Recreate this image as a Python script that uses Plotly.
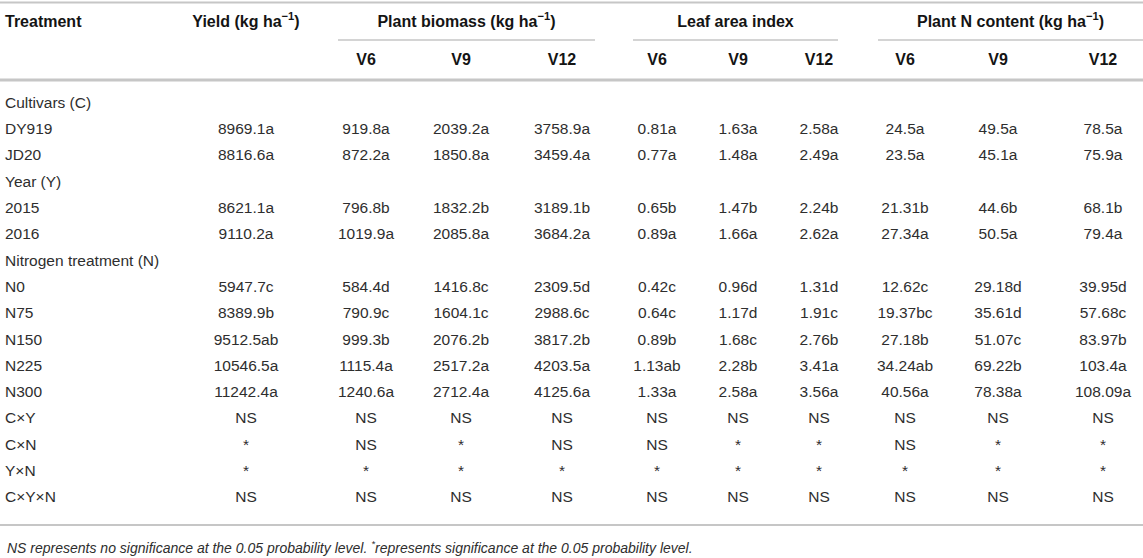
import plotly.graph_objects as go

# Table data (yield, biomass, LAI, plant N at V6/V9/V12)
treatments = ["Cultivars (C)", "DY919", "JD20", "Year (Y)", "2015", "2016",
              "Nitrogen treatment (N)", "N0", "N75", "N150", "N225", "N300",
              "C×Y", "C×N", "Y×N", "C×Y×N"]
yield_kg = ["", "8969.1a", "8816.6a", "", "8621.1a", "9110.2a", "", "5947.7c", "8389.9b",
            "9512.5ab", "10546.5a", "11242.4a", "NS", "*", "*", "NS"]
biomass_v6 = ["", "919.8a", "872.2a", "", "796.8b", "1019.9a", "", "584.4d", "790.9c",
              "999.3b", "1115.4a", "1240.6a", "NS", "NS", "*", "NS"]
biomass_v9 = ["", "2039.2a", "1850.8a", "", "1832.2b", "2085.8a", "", "1416.8c", "1604.1c",
              "2076.2b", "2517.2a", "2712.4a", "NS", "*", "*", "NS"]
biomass_v12 = ["", "3758.9a", "3459.4a", "", "3189.1b", "3684.2a", "", "2309.5d", "2988.6c",
               "3817.2b", "4203.5a", "4125.6a", "NS", "NS", "*", "NS"]
lai_v6 = ["", "0.81a", "0.77a", "", "0.65b", "0.89a", "", "0.42c", "0.64c",
          "0.89b", "1.13ab", "1.33a", "NS", "NS", "*", "NS"]
lai_v9 = ["", "1.63a", "1.48a", "", "1.47b", "1.66a", "", "0.96d", "1.17d",
          "1.68c", "2.28b", "2.58a", "NS", "*", "*", "NS"]
lai_v12 = ["", "2.58a", "2.49a", "", "2.24b", "2.62a", "", "1.31d", "1.91c",
           "2.76b", "3.41a", "3.56a", "NS", "*", "*", "NS"]
n_v6 = ["", "24.5a", "23.5a", "", "21.31b", "27.34a", "", "12.62c", "19.37bc",
        "27.18b", "34.24ab", "40.56a", "NS", "NS", "*", "NS"]
n_v9 = ["", "49.5a", "45.1a", "", "44.6b", "50.5a", "", "29.18d", "35.61d",
        "51.07c", "69.22b", "78.38a", "NS", "*", "*", "NS"]
n_v12 = ["", "78.5a", "75.9a", "", "68.1b", "79.4a", "", "39.95d", "57.68c",
         "83.97b", "103.4a", "108.09a", "NS", "*", "*", "NS"]

group_headers = ["Yield (kg ha<sup>−1</sup>)", "Plant biomass (kg ha<sup>−1</sup>)",
                 "Leaf area index", "Plant N content (kg ha<sup>−1</sup>)"]
stages = ["V6", "V9", "V12"]
footnote = ("<i>NS represents no significance at the 0.05 probability level. "
            "<sup>*</sup>represents significance at the 0.05 probability level.</i>")

W, H = 1143, 558
FONT = "Liberation Sans, Arial, Helvetica, sans-serif"
TXT = "#2e2e2e"
LINE = "#c6c6c6"

# layout positions (pixels)
row_y0, row_step = 104, 26.3
head_y, sub_y = 23, 61
value_cols = [yield_kg, biomass_v6, biomass_v9, biomass_v12,
              lai_v6, lai_v9, lai_v12, n_v6, n_v9, n_v12]
col_x = [246, 366, 461, 562, 657, 738, 819, 905, 998, 1103]
group_spans = [(338, 595), (633, 838), (878, 1143)]

rows_y = [row_y0 + i * row_step for i in range(len(treatments))]

fig = go.Figure()

body = dict(family=FONT, size=15.5, color=TXT)
fig.add_trace(go.Scatter(x=[5] * len(treatments), y=rows_y, text=treatments,
                         mode="text", textposition="middle right", textfont=body))
for cx, vals in zip(col_x, value_cols):
    ys = [y for y, v in zip(rows_y, vals) if v]
    fig.add_trace(go.Scatter(x=[cx] * len(ys), y=ys, text=[v for v in vals if v],
                             mode="text", textposition="middle center", textfont=body))

# header rows
bold = dict(family=FONT, size=16, color="#141414", weight="bold")
fig.add_trace(go.Scatter(x=[5], y=[head_y], text=["Treatment"], mode="text",
                         textposition="middle right", textfont=bold))
head_x = [col_x[0]] + [(a + b) / 2 for a, b in group_spans]
fig.add_trace(go.Scatter(x=head_x, y=[head_y] * 4, text=group_headers, mode="text",
                         textposition="middle center", textfont=bold))
fig.add_trace(go.Scatter(x=col_x[1:], y=[sub_y] * 9, text=stages * 3, mode="text",
                         textposition="middle center", textfont=bold))

# rules
fig.add_shape(type="line", x0=0, x1=W, y0=2.5, y1=2.5, line=dict(color=LINE, width=2))
fig.add_shape(type="line", x0=0, x1=W, y0=80, y1=80, line=dict(color=LINE, width=3))
fig.add_shape(type="line", x0=0, x1=W, y0=525, y1=525, line=dict(color=LINE, width=2))
for a, b in group_spans:
    fig.add_shape(type="line", x0=a, x1=b, y0=40, y1=40, line=dict(color=LINE, width=1.5))

fig.add_annotation(x=5, y=547, text=footnote, showarrow=False, xanchor="left",
                   yanchor="middle", font=dict(family=FONT, size=14, color=TXT))

fig.update_layout(
    width=W, height=H,
    margin=dict(l=0, r=0, t=0, b=0),
    paper_bgcolor="white", plot_bgcolor="white",
    showlegend=False, hovermode=False,
    xaxis=dict(range=[0, W], visible=False, fixedrange=True),
    yaxis=dict(range=[H, 0], visible=False, fixedrange=True),
)

fig.write_html("out.html", config={"displayModeBar": False, "staticPlot": True},
               post_script="document.body.style.margin='0px';")
